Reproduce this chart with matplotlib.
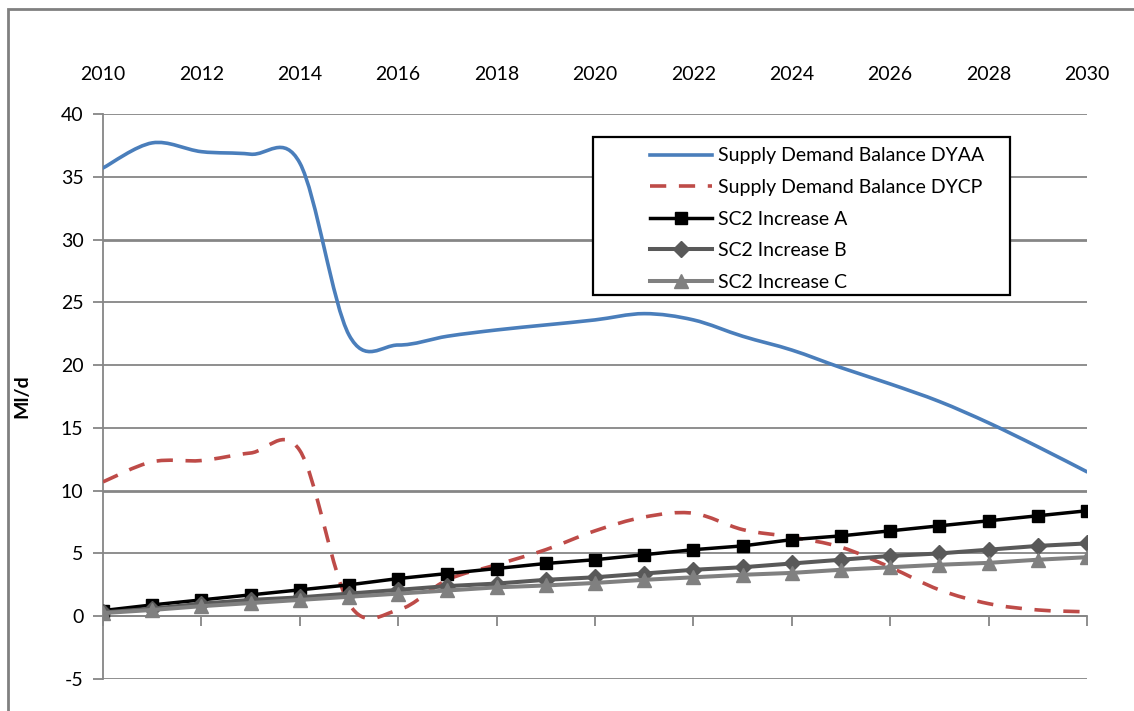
import numpy as np
import matplotlib
matplotlib.use('Agg')
import matplotlib.pyplot as plt
from matplotlib.path import Path
from matplotlib.patches import PathPatch, Rectangle
from matplotlib.lines import Line2D

plt.rcParams['font.family'] = ['Lato', 'DejaVu Sans']

# data
years = list(range(2010, 2031))
dyaa = [35.7, 37.7, 37.0, 36.8, 36.1, 22.4, 21.6, 22.3, 22.8, 23.2, 23.6,
        24.1, 23.6, 22.3, 21.2, 19.8, 18.5, 17.1, 15.4, 13.5, 11.5]
dycp = [10.7, 12.3, 12.4, 13.0, 13.2, 1.0, 0.5, 2.9, 4.1, 5.3, 6.8,
        7.9, 8.2, 6.9, 6.3, 5.5, 3.9, 2.1, 1.0, 0.5, 0.35]
inc_a = [0.45, 0.9, 1.3, 1.7, 2.1, 2.5, 3.0, 3.4, 3.8, 4.2, 4.5,
         4.9, 5.3, 5.6, 6.1, 6.4, 6.8, 7.2, 7.6, 8.0, 8.4]
inc_b = [0.3, 0.6, 1.0, 1.3, 1.5, 1.8, 2.1, 2.4, 2.6, 2.9, 3.1,
         3.4, 3.7, 3.9, 4.2, 4.5, 4.8, 5.0, 5.3, 5.6, 5.8]
inc_c = [0.25, 0.5, 0.8, 1.05, 1.3, 1.55, 1.8, 2.05, 2.3, 2.45, 2.65,
         2.9, 3.1, 3.3, 3.45, 3.7, 3.9, 4.1, 4.25, 4.5, 4.7]

labels = ['Supply Demand Balance DYAA', 'Supply Demand Balance DYCP',
          'SC2 Increase A', 'SC2 Increase B', 'SC2 Increase C']
x_ticks = list(range(2010, 2031, 2))
y_ticks = list(range(-5, 41, 5))

BLUE = '#4a7ebb'
RED = '#be4b48'
GRID = '#868686'


def smooth_path(xs, ys):
    """Excel-like smoothed line: cubic bezier through every point."""
    xs = np.asarray(xs, float)
    ys = np.asarray(ys, float)
    n = len(xs)
    verts = [(xs[0], ys[0])]
    codes = [Path.MOVETO]
    for i in range(n - 1):
        p0 = max(i - 1, 0)
        p3 = min(i + 2, n - 1)
        c1 = (xs[i] + (xs[i + 1] - xs[p0]) / 6, ys[i] + (ys[i + 1] - ys[p0]) / 6)
        c2 = (xs[i + 1] - (xs[p3] - xs[i]) / 6, ys[i + 1] - (ys[p3] - ys[i]) / 6)
        verts += [c1, c2, (xs[i + 1], ys[i + 1])]
        codes += [Path.CURVE4] * 3
    return Path(verts, codes)


fig = plt.figure(figsize=(11.34, 7.11), dpi=100)
ax = fig.add_axes([103 / 1134, 32 / 711, 984 / 1134, 565 / 711])

ax.set_xlim(2010, 2030)
ax.set_ylim(-5, 40)

# gridlines
for v in y_ticks:
    lw = 2.0 if v in (10, 30) else 1.3
    ax.axhline(v, color=GRID, lw=lw, zorder=1)

ax.add_patch(PathPatch(smooth_path(years, dyaa), fill=False, edgecolor=BLUE,
                       lw=2.6, zorder=3, capstyle='round'))
ax.add_patch(PathPatch(smooth_path(years, dycp), fill=False, edgecolor=RED,
                       lw=2.6, zorder=3, linestyle=(0, (4.5, 3.5))))
ax.plot(years, inc_a, color='black', lw=2.5, marker='s', ms=9, zorder=4)
ax.plot(years, inc_b, color='#595959', lw=2.9, marker='D', ms=8, zorder=4)
ax.plot(years, inc_c, color='#808080', lw=2.9, marker='^', ms=10, zorder=4)

# axes styling
for s in ['top', 'right']:
    ax.spines[s].set_visible(False)
ax.spines['left'].set_color(GRID)
ax.spines['left'].set_linewidth(1.3)
ax.spines['bottom'].set_position(('data', 0))
ax.spines['bottom'].set_color(GRID)
ax.spines['bottom'].set_linewidth(1.3)

ax.set_xticks(x_ticks)
ax.set_xticklabels([str(t) for t in x_ticks])
ax.tick_params(axis='x', bottom=True, top=False, labelbottom=False, labeltop=True,
               direction='out', length=7, width=1.3, color=GRID, pad=15, labelsize=14)
ax.set_yticks(y_ticks)
ax.set_yticklabels([str(t) for t in y_ticks])
ax.tick_params(axis='y', direction='out', length=7, width=1.3, color=GRID,
               pad=7, labelsize=14)

ax.set_ylabel('Ml/d', fontsize=14, fontweight='bold')
ax.yaxis.set_label_coords(-0.074, 0.5)

# legend with its own frame
ax.add_patch(Rectangle((0.498, 0.6796), 0.4237, 0.2797, transform=ax.transAxes,
                       facecolor='white', edgecolor='black', lw=1.6, zorder=5))
handles = [
    Line2D([], [], color=BLUE, lw=2.6),
    Line2D([], [], color=RED, lw=2.6, linestyle=(0, (4.5, 3.5))),
    Line2D([], [], color='black', lw=2.5, marker='s', ms=9),
    Line2D([], [], color='#595959', lw=2.9, marker='D', ms=8),
    Line2D([], [], color='#808080', lw=2.9, marker='^', ms=10),
]
leg = ax.legend(handles, labels, loc='upper left', bbox_to_anchor=(0.556, 0.941),
                frameon=False, fontsize=14, borderpad=0, borderaxespad=0,
                handlelength=3.2, handletextpad=0.3, labelspacing=0.75)
leg.set_zorder(6)

# outer chart border
fig.patches.append(Rectangle((8 / 1134, -0.1), 1.2, 1.1 - 9 / 711,
                             transform=fig.transFigure, fill=False,
                             edgecolor='#808080', lw=2))

fig.savefig('out.png', dpi=100)
